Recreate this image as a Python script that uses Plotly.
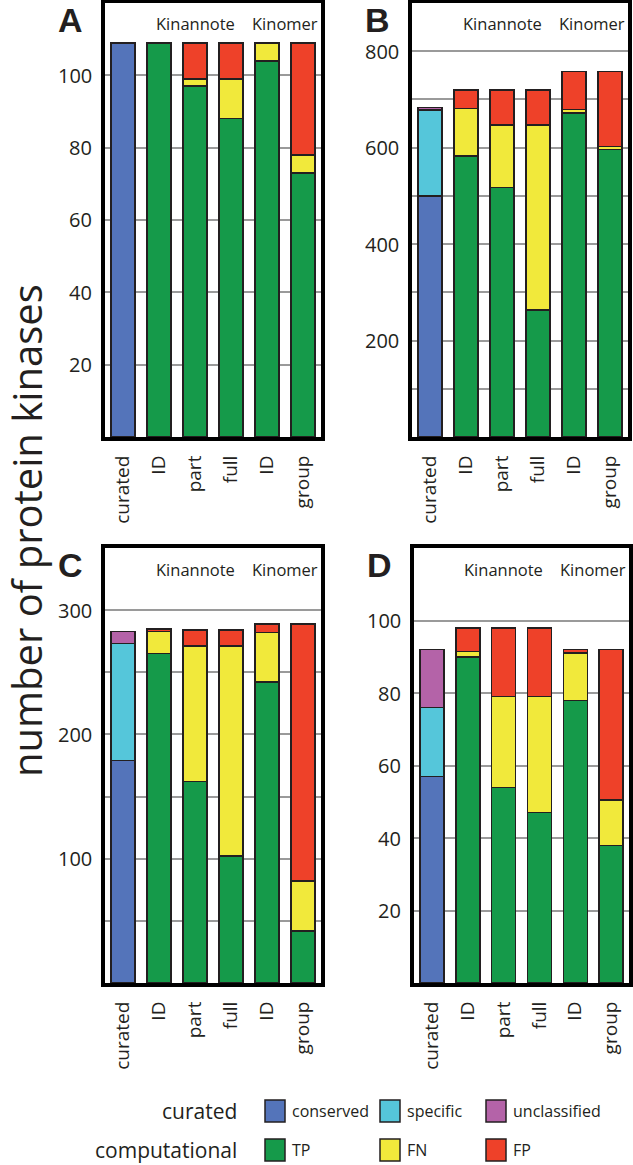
import plotly.graph_objects as go

W, H = 633, 1165

categories = ["curated", "ID", "part", "full", "ID", "group"]

# segment heights, panel by panel
# curated bar: conserved, specific, unclassified
A_conserved = [109]
A_specific = [0]
A_unclassified = [0]
A_TP = [109, 97, 88, 104, 73]
A_FN = [0, 2, 11, 5, 5]
A_FP = [0, 10, 10, 0, 31]

B_conserved = [500]
B_specific = [178]
B_unclassified = [5]
B_TP = [583, 517, 263, 672, 596]
B_FN = [98, 130, 384, 7, 6]
B_FP = [39, 73, 73, 79, 156]

C_conserved = [179]
C_specific = [94]
C_unclassified = [10]
C_TP = [265, 162, 102, 242, 42]
C_FN = [18, 109, 169, 40, 40]
C_FP = [2, 13, 13, 7, 207]

D_conserved = [57]
D_specific = [19]
D_unclassified = [16]
D_TP = [90, 54, 47, 78, 38]
D_FN = [1.5, 25, 32, 13, 12.5]
D_FP = [6.5, 19, 19, 1, 41.5]

panel_letters = ["A", "B", "C", "D"]
group_labels = ["Kinannote", "Kinomer"]
y_ranges = [[0, 120], [0, 900], [0, 350], [0, 120]]
y_grid = [20, 100, 50, 20]
y_ticks = [[20, 40, 60, 80, 100], [200, 400, 600, 800], [100, 200, 300], [20, 40, 60, 80, 100]]

curated_names = ["conserved", "specific", "unclassified"]
comp_names = ["TP", "FN", "FP"]
colors = {
    "conserved": "#5474BA",
    "specific": "#55C6DA",
    "unclassified": "#B463A8",
    "TP": "#159A4A",
    "FN": "#F1E93B",
    "FP": "#EE4129",
}

panels = [
    (A_conserved, A_specific, A_unclassified, A_TP, A_FN, A_FP),
    (B_conserved, B_specific, B_unclassified, B_TP, B_FN, B_FP),
    (C_conserved, C_specific, C_unclassified, C_TP, C_FN, C_FP),
    (D_conserved, D_specific, D_unclassified, D_TP, D_FN, D_FP),
]

# pixel frames of the panels: (left, right, top, bottom)
frames = [(105, 321, 3, 437), (412, 628, 3, 437), (105, 321, 548, 983), (414, 629, 548, 983)]

TXT = "#231F20"
FONT = "Open Sans"


def px(x):
    return x / W


def py(y):
    return 1 - y / H


fig = go.Figure()
layout = dict(
    width=W, height=H,
    margin=dict(l=0, r=0, t=0, b=0),
    paper_bgcolor="white", plot_bgcolor="white",
    barmode="stack", bargap=0.33,
    showlegend=False,
    font=dict(family=FONT, color=TXT),
)

cat_idx = list(range(len(categories)))
annotations = []
shapes = []

for i, (vals, fr) in enumerate(zip(panels, frames)):
    sfx = "" if i == 0 else str(i + 1)
    xa, ya = "x" + sfx, "y" + sfx
    cons, spec, uncl, tp, fn, fp = vals
    for name, v in zip(curated_names, (cons, spec, uncl)):
        fig.add_trace(go.Bar(x=cat_idx[:1], y=v, name=name, xaxis=xa, yaxis=ya,
                             marker=dict(color=colors[name], line=dict(color=TXT, width=1.5))))
    for name, v in zip(comp_names, (tp, fn, fp)):
        fig.add_trace(go.Bar(x=cat_idx[1:], y=v, name=name, xaxis=xa, yaxis=ya,
                             marker=dict(color=colors[name], line=dict(color=TXT, width=1.5))))
    l, r, t, b = fr
    layout["xaxis" + sfx] = dict(
        domain=[px(l), px(r)], anchor=ya, range=[-0.5, 5.5],
        tickmode="array", tickvals=cat_idx, ticktext=categories, tickangle=-90,
        tickfont=dict(size=19, color=TXT, family=FONT),
        ticks="outside", ticklen=7, tickcolor="rgba(0,0,0,0)",
        showline=True, mirror=True, linecolor="black", linewidth=4,
        showgrid=False, zeroline=False, fixedrange=True,
    )
    layout["yaxis" + sfx] = dict(
        domain=[py(b), py(t)], anchor=xa, range=y_ranges[i],
        tickmode="linear", tick0=0, dtick=y_grid[i],
        showticklabels=False,
        showline=True, mirror=True, linecolor="black", linewidth=4,
        showgrid=True, gridcolor="#9A9A9A", gridwidth=1.5, zeroline=False, fixedrange=True,
    )
    # visible tick labels (subset of gridlines)
    for tv in y_ticks[i]:
        annotations.append(dict(x=px(l - 11), y=tv, xref="paper", yref=ya, text=str(tv),
                                showarrow=False, xanchor="right", yanchor="middle",
                                font=dict(size=20, color=TXT, family=FONT)))
    # group labels inside frame
    annotations.append(dict(x=2, y=1 - 21 / (b - t), xref=xa, yref=ya + " domain", text=group_labels[0],
                            showarrow=False, xanchor="center", yanchor="middle",
                            font=dict(size=16.5, color=TXT, family=FONT)))
    annotations.append(dict(x=4.5, y=1 - 21 / (b - t), xref=xa, yref=ya + " domain", text=group_labels[1],
                            showarrow=False, xanchor="center", yanchor="middle",
                            font=dict(size=16.5, color=TXT, family=FONT)))
    # panel letter
    annotations.append(dict(x=px(l - 35), y=py(t + 17), xref="paper", yref="paper",
                            text="<b>" + panel_letters[i] + "</b>", showarrow=False,
                            xanchor="center", yanchor="middle",
                            font=dict(size=34, color=TXT, family="Liberation Sans")))

# y title
annotations.append(dict(x=px(27), y=py(531), xref="paper", yref="paper",
                        text="number of protein kinases", textangle=-90, showarrow=False,
                        xanchor="center", yanchor="middle",
                        font=dict(size=40, color=TXT, family=FONT)))

# legend
legend_rows = [("curated", curated_names, 1111), ("computational", comp_names, 1150)]
sw_x = [265, 380, 486]
for row_label, names, yc in legend_rows:
    annotations.append(dict(x=px(239), y=py(yc), xref="paper", yref="paper", text=row_label,
                            showarrow=False, xanchor="right", yanchor="middle",
                            font=dict(size=21, color=TXT, family=FONT)))
    for nm, sx in zip(names, sw_x):
        shapes.append(dict(type="rect", xref="paper", yref="paper",
                           x0=px(sx), x1=px(sx + 20), y0=py(yc + 11), y1=py(yc - 11),
                           fillcolor=colors[nm], line=dict(color=TXT, width=1.5)))
        annotations.append(dict(x=px(sx + 25), y=py(yc), xref="paper", yref="paper", text=nm,
                                showarrow=False, xanchor="left", yanchor="middle",
                                font=dict(size=16, color=TXT, family=FONT)))

layout["annotations"] = annotations
layout["shapes"] = shapes
fig.update_layout(**layout)
fig.write_html(
    "out.html",
    config={"displayModeBar": False},
    post_script="document.body.style.margin='0';document.body.style.overflow='hidden';",
)
